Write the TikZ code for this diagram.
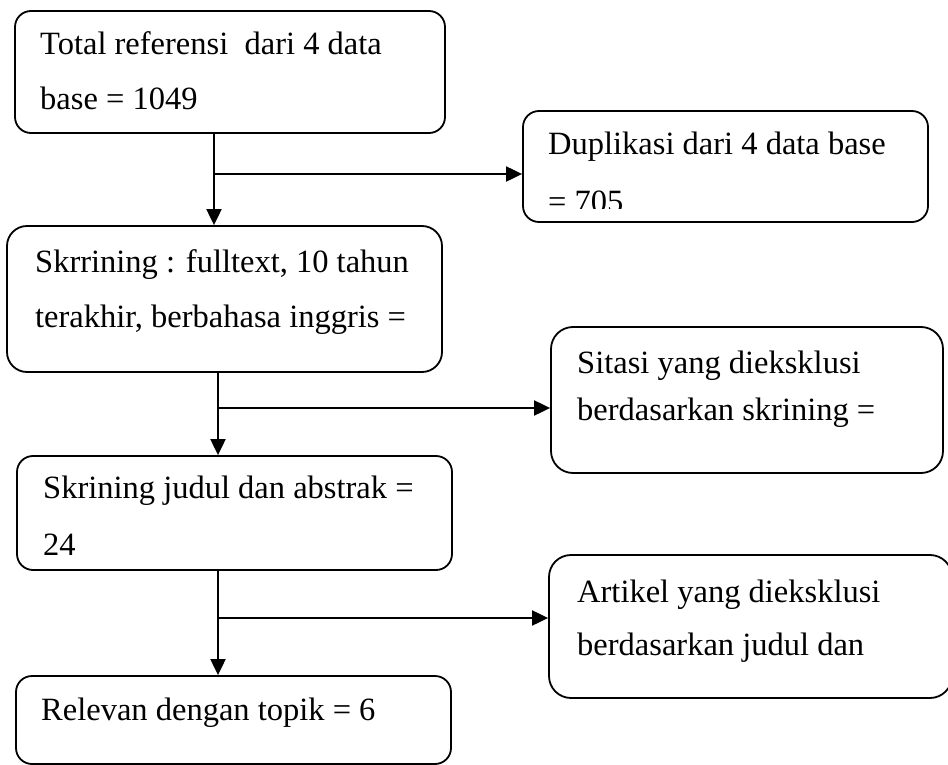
\documentclass[tikz,border=0pt]{standalone}
\usepackage{fontspec}
\setmainfont{Liberation Serif}
\usetikzlibrary{arrows.meta}
\tikzset{
  box/.style={draw=black, line width=1.8pt, rounded corners=16pt, inner sep=0pt},
  bigbox/.style={box, rounded corners=22pt},
  txt/.style={anchor=base west, inner sep=0pt, font=\fontsize{32.5}{38}\selectfont},
  arr/.style={line width=2pt, -{Triangle[length=16pt,width=15pt]}},
  ln/.style={line width=2pt}
}
\begin{document}
\begin{tikzpicture}[x=1pt,y=-1pt]
\useasboundingbox (0,0) rectangle (948,765);
\fill[white] (0,0) rectangle (948,765);
% boxes
\node[box, minimum width=430pt, minimum height=122pt] (b1) at (230,72) {};
\node[box, minimum width=405pt, minimum height=111pt] (b2) at (725.5,166.5) {};
\node[box, rounded corners=20pt, minimum width=435pt, minimum height=146pt] (b3) at (224.5,299) {};
\node[bigbox, minimum width=392pt, minimum height=146pt] (b4) at (747,400) {};
\node[box, minimum width=435pt, minimum height=114pt] (b5) at (234.5,513) {};
\node[bigbox, minimum width=403pt, minimum height=143pt] (b6) at (750.5,626.5) {};
\node[box, minimum width=435pt, minimum height=88pt] (b7) at (233.5,720) {};
% texts
\node[txt] (t1a) at (40,55) {Total referensi\ \ dari 4 data};
\node[txt] (t1b) at (40,110) {base = 1049};
\node[txt] (t2a) at (548,155) {Duplikasi dari 4 data base};
\begin{scope}
\clip (523,111) rectangle (928,208);
\node[txt] (t2b) at (548,212) {= 705};
\end{scope}
\node[txt] (t3a) at (35,272) {Skrrining : fulltext, 10 tahun};
\node[txt] (t3b) at (35,327) {terakhir, berbahasa inggris =};
\node[txt] (t4a) at (577,373) {Sitasi yang dieksklusi};
\node[txt] (t4b) at (577,420) {berdasarkan skrining =};
\node[txt] (t5a) at (43,498) {Skrining judul dan abstrak =};
\node[txt] (t5b) at (43,555) {24};
\node[txt] (t6a) at (577,602) {Artikel yang dieksklusi};
\node[txt] (t6b) at (577,655) {berdasarkan judul dan};
\node[txt] (t7a) at (41,720) {Relevan dengan topik = 6};
% connectors
\coordinate (j1) at (214,174);
\coordinate (j2) at (218,408);
\coordinate (j3) at (218,618);
\draw[arr] (j1 |- b1.south) -- (j1 |- b3.north);
\draw[arr] (j1) -- (j1 -| b2.west);
\draw[arr] (j2 |- b3.south) -- (j2 |- b5.north);
\draw[arr] (j2) -- (j2 -| b4.west);
\draw[arr] (j3 |- b5.south) -- (j3 |- b7.north);
\draw[arr] (j3) -- (j3 -| b6.west);
\end{tikzpicture}
\end{document}
